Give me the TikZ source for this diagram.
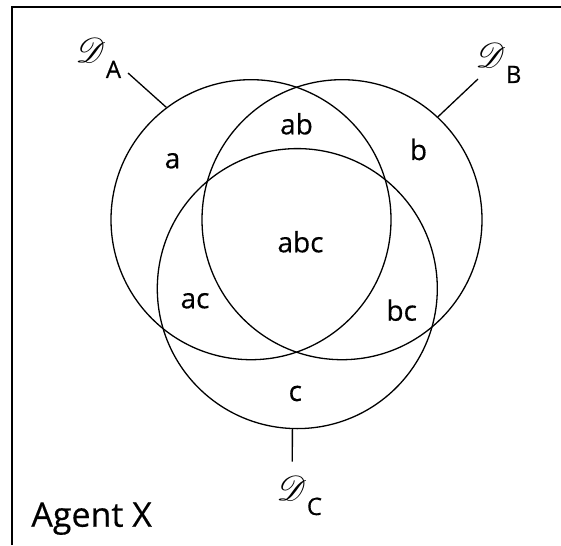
\documentclass[tikz,border=0pt]{standalone}
\usepackage{fontspec}
\setmainfont{Open Sans}[FakeBold=0.4]
\usepackage{mathrsfs}
\usetikzlibrary{positioning}
\newcommand{\setlabel}[1]{\scalebox{1.4}{\fontsize{24.88}{26}\selectfont$\mathscr{D}$}\raisebox{-15pt}{#1}}

\begin{document}
\begin{tikzpicture}[x=1pt, y=-1pt, line width=1.3pt,
    venn/.style={draw, circle, minimum size=280pt, inner sep=0pt},
    region/.style={anchor=base, inner sep=0pt, font=\fontsize{28}{30}\selectfont},
    setname/.style={anchor=base west, inner sep=0pt, font=\fontsize{24}{26}\selectfont}]
  \useasboundingbox (0,0) rectangle (561,545);
  % Frame: only left and top edges show
  \draw[line width=1.6pt] (11.7,545) -- (11.7,7.3) -- (561,7.3);
  % The three sets
  \node[venn] (A) at (251,219.7) {};
  \node[venn] (B) at (342,219.7) {};
  \node[venn] (C) at (297.3,288.6) {};
  % Regions
  \node[region] (ra)   at (172.5,168.3) {a};
  \node[region] (rab)  at (296.5,134.3) {ab};
  \node[region] (rb)   at (418.5,160)   {b};
  \node[region] (rabc) at (300.5,252.3) {abc};
  \node[region] (rac)  at (195,308.3)   {ac};
  \node[region] (rbc)  at (401.7,320.7) {bc};
  \node[region] (rc)   at (295.3,401)   {c};
  % Set names with their leaders
  \node[setname] (nA) at (75,63)  {\setlabel{A}};
  \node[setname] (nB) at (475,68) {\setlabel{B}};
  \node[setname] (nC) at (276,500) {\setlabel{C}};
  \coordinate (tA) at (128,73);
  \coordinate (tB) at (478,79);
  \coordinate (tC) at (292.3,461.7);
  \draw (A.127) -- (tA);
  \draw (B.47) -- (tB);
  \draw (C.268) -- (tC);
  % Agent
  \node[anchor=base west, inner sep=0pt, font=\fontsize{34}{36}\selectfont]
    (agent) at (30.7,526.7) {Agent X};
\end{tikzpicture}
\end{document}
